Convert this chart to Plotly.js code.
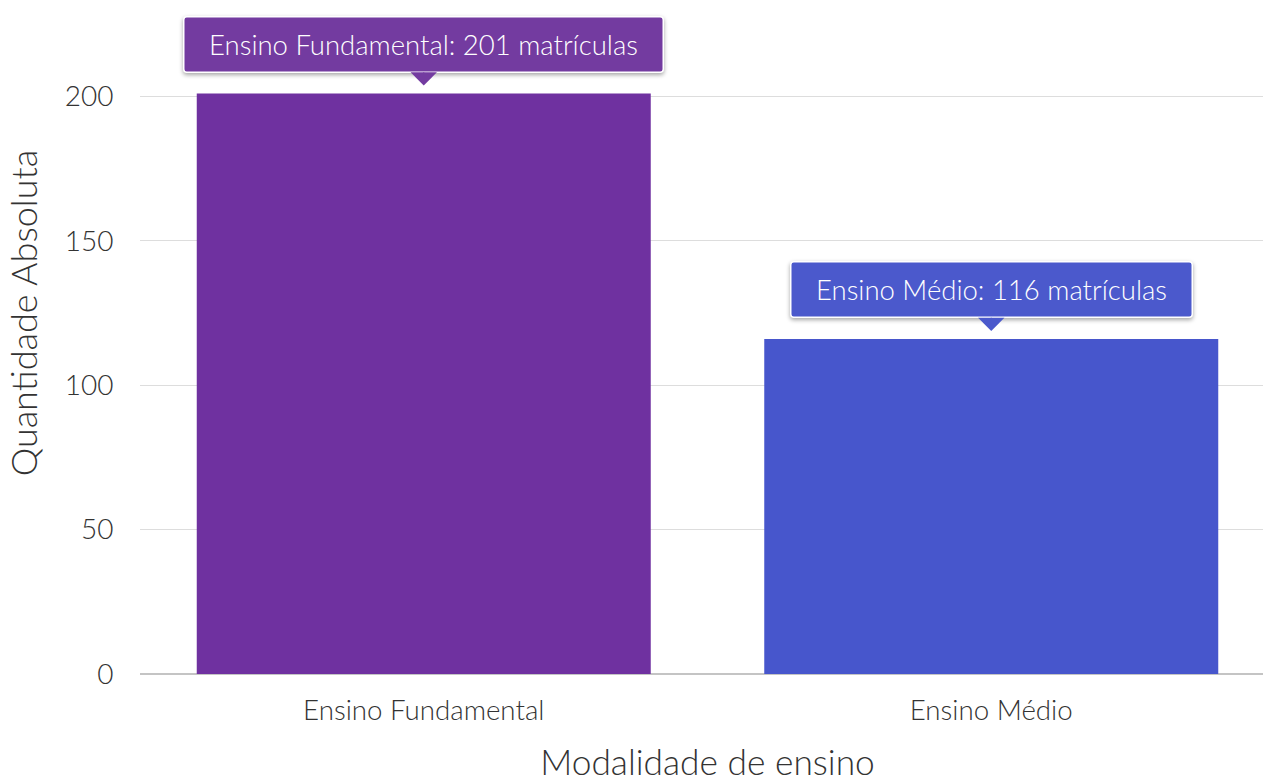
<!DOCTYPE html>
<html>
<head>
<meta charset="utf-8">
<script src="https://cdn.plot.ly/plotly-3.0.1.min.js"></script>
<style>
html, body { margin: 0; padding: 0; background: #fff; overflow: hidden; width: 1263px; height: 783px; position: relative; }
#chart { position: absolute; left: 0; top: -112px; width: 1275px; height: 895px; }
.annotation-text-g rect.bg { filter: drop-shadow(0px 2px 2px rgba(0,0,0,0.35)); rx: 3px; ry: 3px; }
</style>
</head>
<body>
<div id="chart"></div>
<script>
const categories = ["Ensino Fundamental", "Ensino Médio"];
const values = [201, 116];
const barColors = ["#6f31a0", "#4756cc"];
const labelColors = ["#733ba0", "#4b59cc"];
const yTicks = [0, 50, 100, 150, 200];

const FONT = "Lato, 'Open Sans', sans-serif";
const boxWidths = [474, 396];

const trace = {
  type: "bar",
  x: categories,
  y: values,
  marker: { color: barColors, line: { width: 0 } },
  hoverinfo: "none"
};

const annotations = categories.map((c, i) => ({
  x: c,
  y: values[i],
  xref: "x",
  yref: "y",
  text: c + ": " + values[i] + " matrículas",
  showarrow: true,
  arrowhead: 1,
  arrowsize: 4.4,
  arrowwidth: 1,
  arrowcolor: labelColors[i],
  standoff: 8,
  ax: 0,
  ay: -49,
  width: boxWidths[i],
  height: 50,
  bgcolor: labelColors[i],
  bordercolor: "#ffffff",
  borderwidth: 1.5,
  borderpad: 2,
  font: { family: FONT, size: 27.5, color: "#ffffff", weight: 300 }
}));

const layout = {
  width: 1275,
  height: 895,
  margin: { l: 140, r: 0, t: 64, b: 109 },
  paper_bgcolor: "#ffffff",
  plot_bgcolor: "#ffffff",
  bargap: 0.2,
  showlegend: false,
  font: { family: FONT, color: "#333333", weight: 300 },
  xaxis: {
    type: "category",
    range: [-0.5, 1.5],
    showgrid: false,
    showline: false,
    zeroline: false,
    ticks: "outside",
    ticklen: 12,
    tickcolor: "rgba(0,0,0,0)",
    tickfont: { family: FONT, size: 27.7, color: "#333333", weight: 300 },
    title: { text: "Modalidade de ensino", font: { family: FONT, size: 35.3, color: "#333333", weight: 300 }, standoff: 38 }
  },
  yaxis: {
    range: [0, 250],
    tickvals: yTicks,
    ticktext: yTicks.map(String),
    showgrid: true,
    gridcolor: "#dddddd",
    gridwidth: 1,
    zeroline: true,
    zerolinecolor: "#c4c4c4",
    zerolinewidth: 2,
    showline: false,
    ticks: "outside",
    ticklen: 20,
    tickcolor: "rgba(0,0,0,0)",
    tickfont: { family: FONT, size: 28, color: "#333333", weight: 300 },
    title: { text: "Quantidade Absoluta", font: { family: FONT, size: 36, color: "#333333", weight: 300 }, standoff: 16 }
  },
  annotations: annotations
};

Plotly.newPlot("chart", [trace], layout, { displayModeBar: false, staticPlot: true });
</script>
</body>
</html>
